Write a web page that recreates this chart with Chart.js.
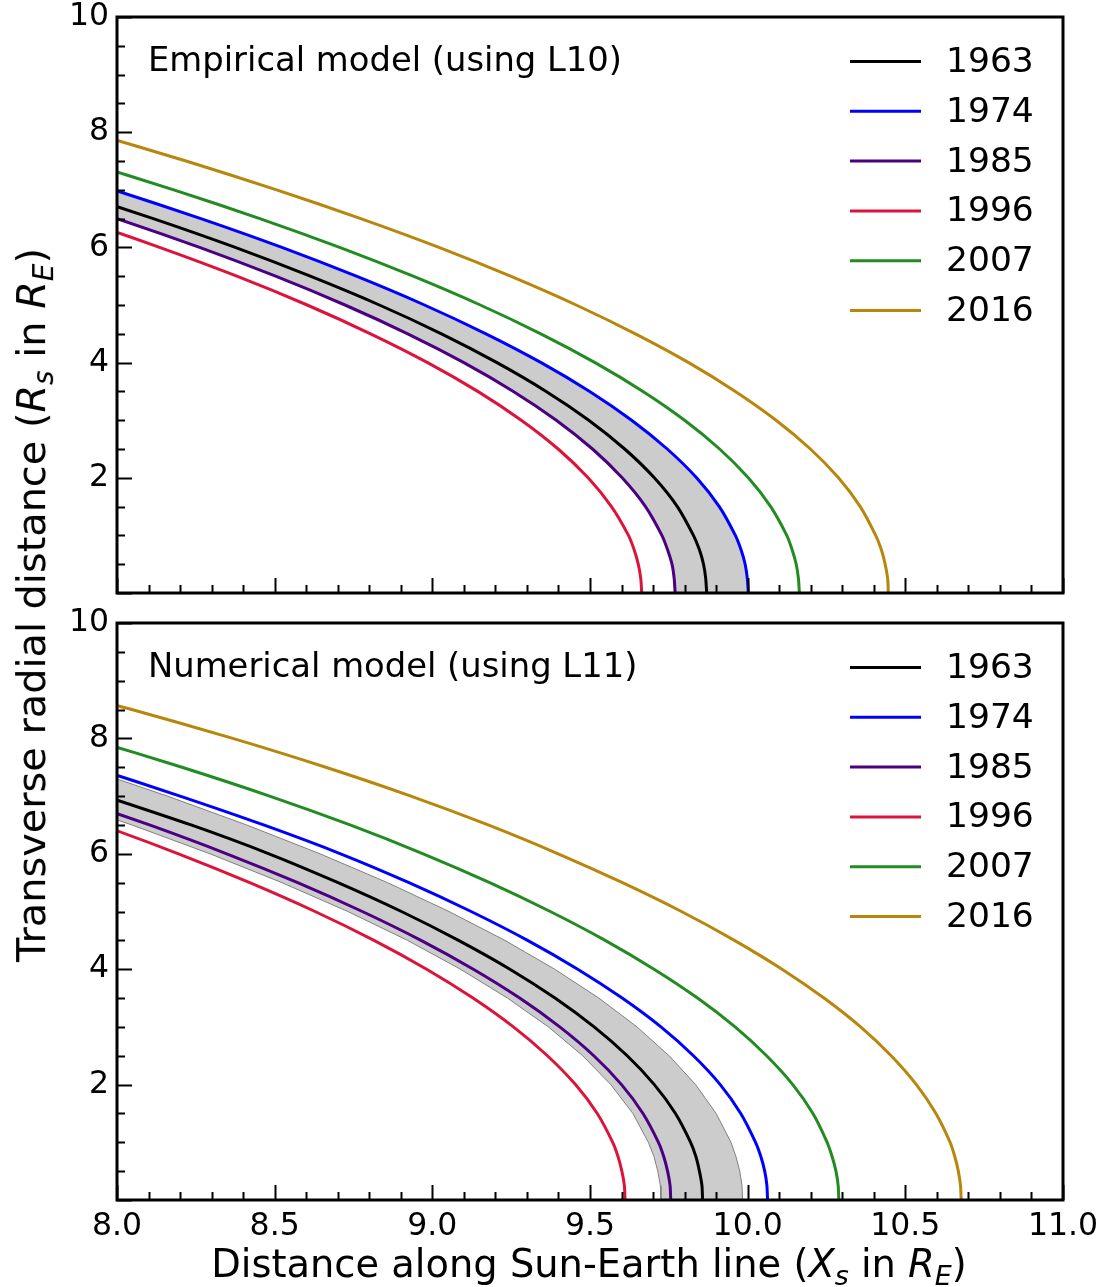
<!DOCTYPE html>
<html>
<head>
<meta charset="utf-8">
<script src="https://cdn.jsdelivr.net/npm/chart.js@4.4.1/dist/chart.umd.min.js"></script>
<style>
  body { margin: 0; background: #fff; }
  #figure { position: relative; width: 1107px; height: 1287px; font-family: "DejaVu Sans", sans-serif; color: #000; }
  #topBox { position: absolute; left: 0; top: 0; width: 1107px; height: 608px; }
  #bottomBox { position: absolute; left: 0; top: 608px; width: 1107px; height: 679px; }
  .axisTitle { position: absolute; white-space: nowrap; line-height: 1; }
  .axisTitle sub { font-size: 0.7em; vertical-align: -0.3em; line-height: 0; }
  #xTitle { font-size: 38.4px; left: 589px; top: 1264px; transform: translate(-50%, -50%); }
  #yTitle { font-size: 39.8px; left: 32px; top: 605px; transform: translate(-50%, -50%) rotate(-90deg); }
</style>
</head>
<body>
<div id="figure">
  <div id="topBox"><canvas id="topChart"></canvas></div>
  <div id="bottomBox"><canvas id="bottomChart"></canvas></div>
  <div class="axisTitle" id="xTitle">Distance along Sun-Earth line (<i>X</i><sub><i>s</i></sub> in <i>R</i><sub><i>E</i></sub>)</div>
  <div class="axisTitle" id="yTitle">Transverse radial distance (<i>R</i><sub><i>s</i></sub> in <i>R</i><sub><i>E</i></sub>)</div>
</div>
<script>
// transverse distance R (y) at which each x value below was read
const rValues = [0, 0.25, 0.5, 0.75, 1, 1.5, 2, 2.5, 3, 3.5, 4, 4.5, 5, 5.5, 6, 6.5, 7, 7.5, 8, 8.5, 9];

const years = ["1963", "1974", "1985", "1996", "2007", "2016"];
const yearColors = ["#000000", "#0000ff", "#4b0082", "#dc143c", "#228b22", "#b8860b"];

// Empirical model (L10): distance along Sun-Earth line at each R
const emp1963 = [9.870, 9.867, 9.860, 9.847, 9.828, 9.777, 9.704, 9.610, 9.496, 9.361, 9.205, 9.029, 8.832, 8.613, 8.375, 8.115, 7.835, 7.533, 7.211, 6.869, 6.505];
const emp1974 = [10.002, 9.999, 9.992, 9.979, 9.961, 9.910, 9.838, 9.745, 9.632, 9.499, 9.345, 9.170, 8.975, 8.759, 8.523, 8.266, 7.989, 7.691, 7.372, 7.033, 6.674];
const emp1985 = [9.770, 9.767, 9.760, 9.746, 9.728, 9.676, 9.602, 9.508, 9.393, 9.257, 9.100, 8.922, 8.723, 8.503, 8.262, 8.000, 7.717, 7.414, 7.089, 6.743, 6.377];
const emp1996 = [9.664, 9.661, 9.653, 9.640, 9.622, 9.568, 9.494, 9.399, 9.282, 9.144, 8.985, 8.804, 8.603, 8.380, 8.135, 7.870, 7.583, 7.276, 6.947, 6.596, 6.225];
const emp2007 = [10.164, 10.161, 10.154, 10.141, 10.124, 10.073, 10.002, 9.911, 9.800, 9.668, 9.516, 9.344, 9.152, 8.939, 8.706, 8.453, 8.180, 7.886, 7.573, 7.239, 6.884];
const emp2016 = [10.446, 10.444, 10.436, 10.424, 10.406, 10.357, 10.288, 10.199, 10.090, 9.961, 9.813, 9.644, 9.456, 9.248, 9.021, 8.773, 8.506, 8.219, 7.912, 7.586, 7.239];

// Numerical model (L11)
const num1963 = [9.857, 9.855, 9.847, 9.836, 9.819, 9.771, 9.704, 9.618, 9.513, 9.389, 9.246, 9.083, 8.902, 8.701, 8.482, 8.235, 7.962, 7.680, 7.385, 7.070, 6.740];
const num1974 = [10.063, 10.061, 10.054, 10.042, 10.025, 9.978, 9.913, 9.828, 9.725, 9.602, 9.461, 9.302, 9.123, 8.926, 8.709, 8.465, 8.200, 7.920, 7.620, 7.300, 6.970];
const num1985 = [9.756, 9.754, 9.746, 9.734, 9.717, 9.668, 9.600, 9.512, 9.404, 9.277, 9.130, 8.964, 8.778, 8.573, 8.348, 8.103, 7.839, 7.556, 7.252, 6.930, 6.587];
const num1996 = [9.611, 9.609, 9.601, 9.589, 9.572, 9.523, 9.454, 9.365, 9.257, 9.129, 8.982, 8.815, 8.628, 8.421, 8.195, 7.949, 7.684, 7.399, 7.094, 6.769, 6.425];
const num2007 = [10.289, 10.287, 10.280, 10.268, 10.252, 10.207, 10.143, 10.060, 9.960, 9.841, 9.703, 9.548, 9.374, 9.182, 8.971, 8.739, 8.484, 8.206, 7.906, 7.584, 7.240];
const num2016 = [10.677, 10.675, 10.668, 10.657, 10.642, 10.597, 10.535, 10.455, 10.358, 10.242, 10.109, 9.958, 9.790, 9.603, 9.399, 9.177, 8.932, 8.662, 8.367, 8.047, 7.700];
// grey band edges of the numerical model
const numBandLow = [9.725, 9.723, 9.715, 9.703, 9.685, 9.636, 9.566, 9.477, 9.368, 9.238, 9.089, 8.921, 8.732, 8.523, 8.295, 8.047, 7.779, 7.491, 7.183, 6.855, 6.508];
const numBandHigh = [9.984, 9.982, 9.975, 9.963, 9.947, 9.900, 9.835, 9.751, 9.649, 9.528, 9.388, 9.230, 9.053, 8.858, 8.644, 8.411, 8.160, 7.890, 7.601, 7.294, 6.968];

const xTicks = [8.0, 8.5, 9.0, 9.5, 10.0, 10.5, 11.0];
const yTicks = [2, 4, 6, 8, 10];

const FONT = "DejaVu Sans";
Chart.defaults.font.family = FONT;
Chart.defaults.color = "#000";

const toPoints = xs => xs.map((x, i) => ({ x: x, y: rValues[i] }));

function bandDataset(outer, inner, edgeColor, edgeWidth) {
  const pts = toPoints(outer).concat(toPoints(inner).reverse());
  return {
    data: pts,
    borderColor: edgeColor,
    borderWidth: edgeWidth,
    backgroundColor: "#cccccc",
    fill: "shape",
    pointRadius: 0,
    tension: 0,
    order: 10
  };
}

function yearDatasets(series) {
  return series.map((xs, i) => ({
    label: years[i],
    data: toPoints(xs),
    borderColor: yearColors[i],
    borderWidth: 3,
    pointRadius: 0,
    fill: false,
    tension: 0.25,
    order: i === 0 ? 0 : 1
  }));
}

// frame, inward ticks, legend and panel title
const panelDecor = {
  id: "panelDecor",
  afterDatasetsDraw(chart, args, opts) {
    const { ctx, chartArea: a, scales: { x, y } } = chart;
    ctx.save();
    ctx.strokeStyle = "#000";
    ctx.lineWidth = 2;
    ctx.beginPath();
    for (let i = 0; i <= 30; i++) {
      const px = Math.round(x.getPixelForValue(8 + i * 0.1)) + 0.5;
      const len = i % 5 === 0 ? 15 : 8;
      ctx.moveTo(px, a.bottom);
      ctx.lineTo(px, a.bottom - len);
    }
    for (let i = 0; i <= 20; i++) {
      const py = Math.round(y.getPixelForValue(i * 0.5)) + 0.5;
      const len = i % 4 === 0 ? 15 : 8;
      ctx.moveTo(a.left, py);
      ctx.lineTo(a.left + len, py);
    }
    ctx.stroke();
    ctx.lineWidth = 3;
    ctx.strokeRect(a.left, a.top, a.width, a.height);

    ctx.fillStyle = "#000";
    ctx.textBaseline = "middle";
    ctx.textAlign = "left";
    ctx.font = `33.8px "${FONT}"`;
    ctx.fillText(opts.title, 148, a.top + 45);

    ctx.font = `34.5px "${FONT}"`;
    const items = chart.data.datasets.filter(d => d.label);
    items.forEach((d, i) => {
      const yy = a.top + 44.5 + i * 49.8;
      ctx.strokeStyle = d.borderColor;
      ctx.lineWidth = 3;
      ctx.beginPath();
      ctx.moveTo(850, yy);
      ctx.lineTo(921, yy);
      ctx.stroke();
      ctx.fillText(d.label, 946, yy + 1.5);
    });
    ctx.restore();
  }
};

const hiddenGrid = len => ({
  display: true,
  drawOnChartArea: false,
  drawTicks: true,
  tickLength: len,
  color: "rgba(0,0,0,0)"
});

function makePanel(canvasId, datasets, title, showXLabels, padTop, xHeight) {
  return new Chart(document.getElementById(canvasId), {
    type: "line",
    data: { datasets: datasets },
    plugins: [panelDecor],
    options: {
      responsive: true,
      maintainAspectRatio: false,
      animation: false,
      events: [],
      layout: { padding: { top: padTop, right: 44, left: 0, bottom: 0 } },
      plugins: {
        legend: { display: false },
        tooltip: { enabled: false },
        panelDecor: { title: title }
      },
      scales: {
        x: {
          type: "linear",
          min: 8,
          max: 11,
          afterBuildTicks: s => { s.ticks = xTicks.map(v => ({ value: v })); },
          ticks: {
            display: showXLabels,
            maxRotation: 0,
            autoSkip: false,
            padding: 0,
            font: { size: 31.5, lineHeight: 0.9 },
            callback: v => Number(v).toFixed(1)
          },
          grid: hiddenGrid(13),
          border: { display: false },
          afterFit: s => { s.height = xHeight; }
        },
        y: {
          type: "linear",
          min: 0,
          max: 10,
          afterBuildTicks: s => { s.ticks = yTicks.map(v => ({ value: v })); },
          ticks: {
            padding: 0,
            autoSkip: false,
            font: { size: 31.5, lineHeight: 0.9 },
            callback: v => v
          },
          grid: hiddenGrid(8),
          border: { display: false },
          afterFit: s => { s.width = 117; }
        }
      }
    }
  });
}

const empiricalSeries = [emp1963, emp1974, emp1985, emp1996, emp2007, emp2016];
const numericalSeries = [num1963, num1974, num1985, num1996, num2007, num2016];

makePanel("topChart",
  [bandDataset(emp1974, emp1985, "#cccccc", 0)].concat(yearDatasets(empiricalSeries)),
  "Empirical model (using L10)", false, 17, 15);

makePanel("bottomChart",
  [bandDataset(numBandHigh, numBandLow, "#808080", 1)].concat(yearDatasets(numericalSeries)),
  "Numerical model (using L11)", true, 15, 87);
</script>
</body>
</html>
